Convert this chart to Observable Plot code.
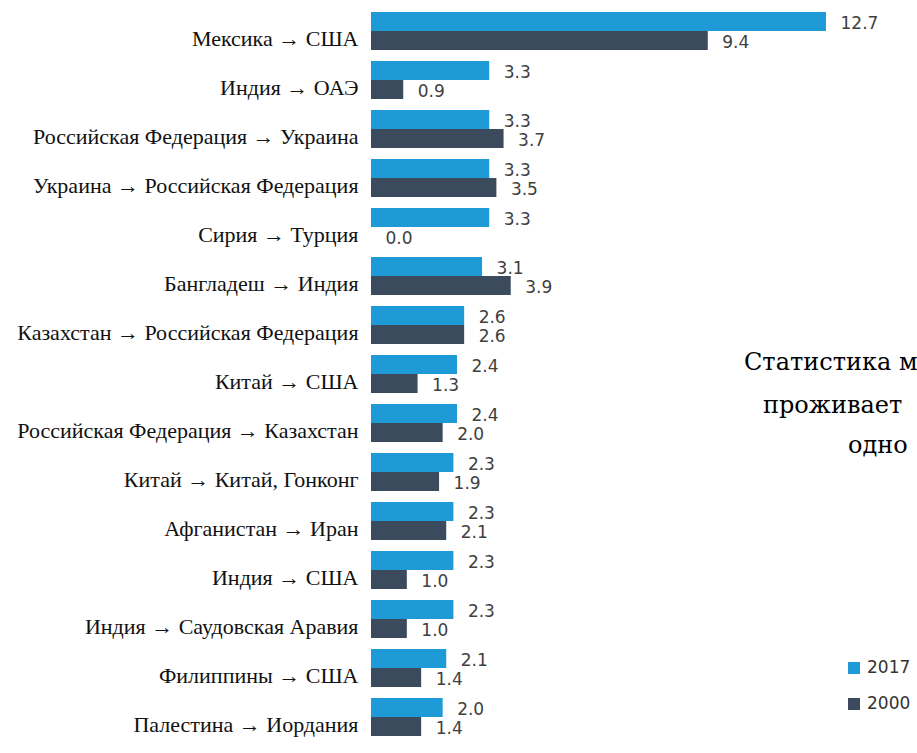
<!DOCTYPE html>
<html>
<head>
<meta charset="utf-8">
<script src="https://cdn.jsdelivr.net/npm/d3@7"></script>
<script src="https://cdn.jsdelivr.net/npm/@observablehq/plot@0.6"></script>
<style>
  html, body { margin: 0; padding: 0; background: #fff; overflow: hidden; width: 917px; height: 753px; }
  #wrap { position: relative; width: 917px; height: 753px; }
  #chart { position: absolute; left: 0; top: 0; }
  .side { position: absolute; font-family: "DejaVu Serif", serif; font-size: 24px; color: #000; white-space: nowrap; line-height: 30px; }
  .leg { position: absolute; left: 848px; font-family: "DejaVu Sans", sans-serif; font-size: 17px; color: #333; white-space: nowrap; line-height: 20px; }
  .leg span.sw { display: inline-block; width: 12px; height: 12px; margin-right: 7px; vertical-align: -1px; }
</style>
</head>
<body>
<div id="wrap">
  <div id="chart"></div>
  <div class="side" style="left:744px; top:347px;">Статистика м</div>
  <div class="side" style="left:763px; top:390px;">проживает</div>
  <div class="side" style="left:848px; top:430px;">одно</div>
  <div id="legend"></div>
</div>
<script>
const categories = [
  "Мексика → США",
  "Индия → ОАЭ",
  "Российская Федерация → Украина",
  "Украина → Российская Федерация",
  "Сирия → Турция",
  "Бангладеш → Индия",
  "Казахстан → Российская Федерация",
  "Китай → США",
  "Российская Федерация → Казахстан",
  "Китай → Китай, Гонконг",
  "Афганистан → Иран",
  "Индия → США",
  "Индия → Саудовская Аравия",
  "Филиппины → США",
  "Палестина → Иордания"
];
const series = ["2017", "2000"];
const values2017 = [12.7, 3.3, 3.3, 3.3, 3.3, 3.1, 2.6, 2.4, 2.4, 2.3, 2.3, 2.3, 2.3, 2.1, 2.0];
const values2000 = [9.4, 0.9, 3.7, 3.5, 0.0, 3.9, 2.6, 1.3, 2.0, 1.9, 2.1, 1.0, 1.0, 1.4, 1.4];
const colors = ["#1e9ad6", "#3b4a5c"];

const data = [];
categories.forEach((c, i) => {
  data.push({category: c, series: "2017", value: values2017[i]});
  data.push({category: c, series: "2000", value: values2000[i]});
});

const chart = Plot.plot({
  width: 917,
  height: 753,
  marginLeft: 371,
  marginRight: 91,
  marginTop: 4,
  marginBottom: 10,
  style: {background: "transparent"},
  x: {domain: [0, 12.7], axis: null},
  fy: {domain: categories, padding: 0.2},
  y: {domain: series, padding: 0, axis: null},
  color: {domain: series, range: colors},
  marks: [
    Plot.barX(data, {x: "value", y: "series", fy: "category", fill: "series"}),
    Plot.text(data, {
      x: "value", y: "series", fy: "category",
      text: d => d.value.toFixed(1),
      textAnchor: "start", dx: 14, dy: 2,
      fontSize: 17, fontFamily: "DejaVu Sans", fill: "#404040"
    }),
    Plot.axisFy({
      anchor: "left", tickSize: 0, tickPadding: 13, label: null,
      fontSize: 22, fontFamily: "Liberation Serif", fill: "#111", dy: 8
    })
  ]
});
document.getElementById("chart").appendChild(chart);

const legend = document.getElementById("legend");
series.forEach((s, i) => {
  const d = document.createElement("div");
  d.className = "leg";
  d.style.top = (657 + i * 36) + "px";
  d.innerHTML = `<span class="sw" style="background:${colors[i]}"></span>${s}`;
  legend.appendChild(d);
});
</script>
</body>
</html>
